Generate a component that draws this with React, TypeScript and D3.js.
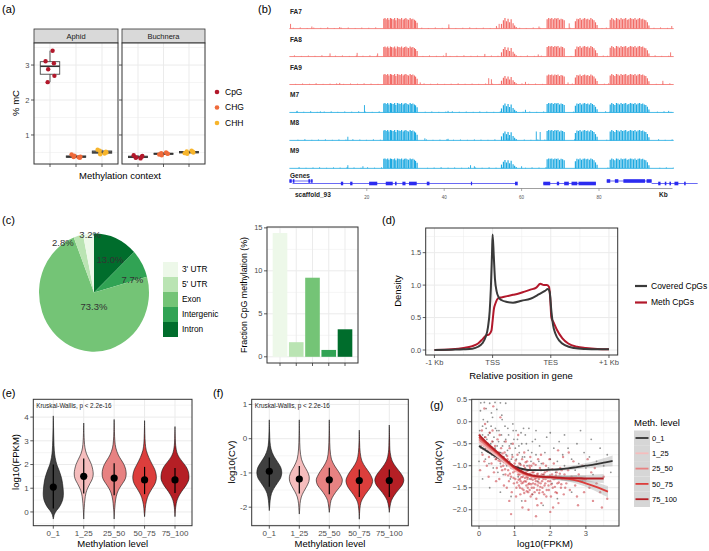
import React from 'react';
import * as d3 from 'd3';

const FONT = "'Liberation Sans', Arial, Helvetica, sans-serif";
const GRID = '#EBEBEB';
const BORDER = '#333333';
const TICK_TXT = '#4D4D4D';

// ---------- (a) % mC per methylation context
const contexts = ['CpG', 'CHG', 'CHH'];
const contextColors = ['#B2182B', '#EF6A3A', '#F7B52C'];
const organisms = ['Aphid', 'Buchnera'];
const aphidMC = [
  [3.41, 3.11, 3.05, 2.88, 2.69, 2.51],
  [0.36, 0.44, 0.35, 0.41, 0.38, 0.37],
  [0.47, 0.58, 0.52, 0.45, 0.5, 0.55],
];
const buchneraMC = [
  [0.33, 0.42, 0.38, 0.36, 0.4, 0.35],
  [0.5, 0.44, 0.47, 0.42, 0.46, 0.48],
  [0.55, 0.48, 0.52, 0.46, 0.5, 0.53],
];
const jitter = [0.1, -0.17, 0.15, -0.07, 0.17, -0.09];

// ---------- (b) genome browser tracks (Kb)
const tracks = ['FA7', 'FA8', 'FA9', 'M7', 'M8', 'M9'];
const trackColors = ['#F26B66', '#F26B66', '#F26B66', '#1CA9E1', '#1CA9E1', '#1CA9E1'];
const blockRegions = [[24.2, 33.2], [54.7, 58.8], [66.5, 71.3], [73.8, 79.8], [82.8, 93.0]];
const spikeKb = [
  24.4, 24.7, 25.0, 25.4, 25.7, 26.1, 26.4, 26.8, 27.2, 27.5, 27.9, 28.3, 28.6, 29.0, 29.4, 29.7, 30.1, 30.4, 30.8, 31.2, 31.5, 31.9, 32.3, 32.6, 33.0,
  54.8, 55.3, 55.7, 56.1, 56.5, 56.9, 57.3, 57.8, 58.2, 58.6,
  66.6, 67.0, 67.4, 67.8, 68.2, 68.6, 69.0, 69.4, 69.8, 70.2, 70.6, 71.0,
  73.9, 74.3, 74.7, 75.1, 75.5, 75.9, 76.3, 76.7, 77.1, 77.5, 77.9, 78.3, 78.7, 79.1, 79.5,
  82.9, 83.3, 83.7, 84.1, 84.5, 84.9, 85.3, 85.7, 86.1, 86.5, 86.9, 87.3, 87.7, 88.1, 88.5, 88.9, 89.3, 89.7, 90.1, 90.5, 90.9, 91.3, 91.7, 92.1, 92.5, 92.9,
];
const spikeH = [
  0.95, 1, 0.9, 1, 0.85, 1, 0.95, 0.9, 1, 0.8, 1, 0.95, 0.9, 1, 0.85, 0.95, 1, 0.9, 0.85, 1, 0.9, 0.95, 0.85, 0.75, 0.55,
  0.45, 0.8, 1, 0.7, 0.95, 0.6, 0.9, 0.5, 0.3, 0.15,
  0.9, 1, 0.95, 1, 0.9, 1, 0.95, 1, 0.85, 0.95, 0.9, 0.8,
  0.7, 0.95, 0.9, 1, 0.85, 0.95, 1, 0.9, 0.95, 0.85, 1, 0.9, 0.8, 0.6, 0.35,
  0.85, 1, 0.9, 0.8, 1, 0.95, 0.85, 1, 0.9, 0.95, 1, 0.85, 0.9, 1, 0.95, 0.9, 1, 0.85, 0.95, 1, 0.9, 0.95, 0.85, 0.8, 0.6, 0.3,
];
const trackBlockScale = [
  [1, 1, 1, 1, 1],
  [0.95, 0.9, 1, 1, 1],
  [1, 0.8, 0.95, 0.95, 1],
  [0.9, 0.85, 0.9, 0.9, 0.9],
  [1, 0.85, 1, 1, 1],
  [0.95, 0.8, 0.95, 0.95, 0.95],
];
const noiseKb = [1.0, 2.8, 4.6, 6.3, 8.1, 9.9, 11.6, 13.4, 15.2, 17.0, 18.7, 20.5, 22.3, 34.2, 35.9, 37.7, 39.5, 41.2, 43.0, 44.8, 46.6, 48.3, 50.1, 51.9, 53.6, 59.5, 61.2, 63.0, 64.8, 72.5, 80.8, 81.9, 94.2, 95.9, 97.7];
const noiseH = [0.08, 0.12, 0.06, 0.1, 0.07, 0.13, 0.06, 0.09, 0.11, 0.06, 0.1, 0.08, 0.12, 0.09, 0.06, 0.11, 0.07, 0.1, 0.06, 0.08, 0.12, 0.07, 0.09, 0.06, 0.1, 0.08, 0.06, 0.11, 0.07, 0.09, 0.06, 0.1, 0.08, 0.12, 0.07];
const trackSpikes = [
  [[0.3, 0.45], [5.8, 0.2], [13, 0.15], [41.2, 0.4], [53.5, 0.25], [54.2, 0.45], [64.5, 0.2], [72.3, 0.5], [98.8, 0.25]],
  [[10.5, 0.3], [17.5, 0.35], [22.8, 0.3], [40.5, 0.35], [50.5, 0.25], [64.3, 0.2], [98.5, 0.4]],
  [[13, 0.15], [33.8, 0.2], [51.5, 0.6], [52.2, 0.5], [61, 0.25], [72, 0.2], [96.5, 0.35]],
  [[2, 0.15], [8, 0.1], [19.4, 0.7], [41, 0.15], [61, 0.25], [98, 0.15]],
  [[15.1, 0.35], [35, 0.2], [41, 0.15], [56.5, 0.2], [63.8, 0.85], [64.8, 0.8]],
  [[15.1, 0.3], [19, 0.2], [46.8, 0.3], [47.8, 0.2], [60, 0.2]],
];
// gene model: [start, end, row]
const geneExons = [
  [0, 0.6, 1], [0.9, 1.3, 1], [4.9, 5.4, 1], [5.6, 6.0, 1],
  [13.3, 13.9, 0], [15.7, 16.3, 0], [20.6, 22.7, 0], [24.9, 26.7, 0], [27.3, 27.7, 0], [29.2, 30.0, 0], [30.9, 32.9, 0], [35.5, 36.2, 0], [46.9, 47.1, 0], [58.3, 59.0, 0],
  [65.6, 67.4, 0], [69.1, 69.7, 0], [71.0, 72.2, 0], [72.9, 74.4, 0], [74.7, 79.2, 0],
  [82.0, 82.9, 1], [84.1, 85.0, 1], [86.3, 91.9, 1], [92.3, 93.6, 1],
  [95.3, 95.9, 0], [97.0, 97.4, 0], [98.2, 98.6, 0], [99.5, 100.5, 0], [102.0, 102.4, 0],
];
const geneIntrons = [[0, 6, 1], [0.8, 58.8, 0], [65.6, 79.2, 0], [82, 93.6, 1], [93.6, 105.5, 0]];
const kbTicks = [20, 40, 60, 80];

// ---------- (c) genomic regions
const regions = ["3' UTR", "5' UTR", 'Exon', 'Intergenic', 'Intron'];
const regionColors = ['#EDF8E9', '#BAE4B3', '#74C476', '#31A354', '#006D2C'];
const pieOrder = ['Intron', 'Intergenic', 'Exon', "5' UTR", "3' UTR"];
const piePct = [13.0, 7.7, 73.3, 2.8, 3.2];
const pieLabelR = [0.62, 0.73, 0.245, 1.02, 0.98];
const pieLabelNudge = [0.08, 0.22, -0.46, -0.3, 0.03];
const fracMeth = [14.4, 1.7, 9.2, 0.8, 3.2];

// ---------- (d) metagene density
const coveredX = [0, 0.3, 0.5, 0.65, 0.75, 0.82, 0.88, 0.92, 0.95, 0.97, 0.99, 1.0, 1.02, 1.04, 1.07, 1.1, 1.15, 1.25, 1.35, 1.5, 1.65, 1.8, 1.9, 1.95, 1.98, 2.01, 2.04, 2.08, 2.15, 2.25, 2.4, 2.6, 2.8, 3.0];
const coveredY = [0.0, 0.005, 0.01, 0.02, 0.05, 0.1, 0.2, 0.35, 0.6, 0.95, 1.5, 1.78, 1.45, 1.1, 0.9, 0.82, 0.77, 0.74, 0.73, 0.76, 0.79, 0.86, 0.91, 0.94, 0.9, 0.6, 0.38, 0.25, 0.14, 0.07, 0.03, 0.015, 0.01, 0.01];
const methX = [0, 0.3, 0.5, 0.65, 0.75, 0.82, 0.88, 0.94, 0.98, 1.0, 1.02, 1.05, 1.1, 1.15, 1.25, 1.35, 1.45, 1.55, 1.65, 1.75, 1.82, 1.88, 1.93, 1.97, 1.99, 2.01, 2.05, 2.1, 2.2, 2.3, 2.45, 2.6, 2.8, 3.0];
const methY = [0.0, 0.01, 0.03, 0.06, 0.1, 0.16, 0.22, 0.24, 0.3, 0.45, 0.62, 0.72, 0.8, 0.81, 0.83, 0.85, 0.87, 0.9, 0.93, 0.96, 1.02, 1.0, 1.0, 0.97, 0.8, 0.5, 0.42, 0.32, 0.18, 0.1, 0.05, 0.03, 0.015, 0.01];
const geneAxisLabels = ['-1 Kb', 'TSS', 'TES', '+1 Kb'];

// ---------- (e)/(f) violins by methylation level
const levels = ['0_1', '1_25', '25_50', '50_75', '75_100'];
const levelColors = ['#404040', '#F5BDBD', '#E78282', '#DC3E3C', '#B51F25'];
const fpkmDensity = [
  [[4.05, 0], [3.5, 0.02], [3.0, 0.04], [2.6, 0.07], [2.3, 0.13], [2.0, 0.25], [1.8, 0.38], [1.6, 0.5], [1.4, 0.6], [1.2, 0.66], [1.0, 0.7], [0.8, 0.72], [0.6, 0.7], [0.4, 0.6], [0.2, 0.42], [0.05, 0.22], [-0.1, 0.08], [-0.3, 0]],
  [[3.75, 0], [3.3, 0.02], [3.0, 0.04], [2.7, 0.09], [2.45, 0.2], [2.2, 0.4], [2.0, 0.55], [1.8, 0.64], [1.6, 0.68], [1.4, 0.62], [1.2, 0.45], [1.0, 0.28], [0.8, 0.16], [0.5, 0.08], [0.2, 0.04], [0, 0.02], [-0.3, 0]],
  [[3.9, 0], [3.4, 0.02], [3.0, 0.05], [2.7, 0.12], [2.4, 0.3], [2.2, 0.5], [2.0, 0.7], [1.8, 0.82], [1.6, 0.86], [1.4, 0.8], [1.2, 0.6], [1.0, 0.38], [0.8, 0.22], [0.5, 0.1], [0.2, 0.05], [0, 0.02], [-0.3, 0]],
  [[3.85, 0], [3.3, 0.02], [2.9, 0.05], [2.6, 0.12], [2.3, 0.3], [2.0, 0.55], [1.8, 0.72], [1.6, 0.82], [1.4, 0.84], [1.2, 0.75], [1.0, 0.55], [0.8, 0.35], [0.6, 0.2], [0.3, 0.08], [0, 0.03], [-0.2, 0]],
  [[3.6, 0], [3.1, 0.02], [2.8, 0.05], [2.5, 0.14], [2.3, 0.3], [2.1, 0.55], [1.9, 0.8], [1.7, 0.95], [1.5, 1.0], [1.35, 0.98], [1.15, 0.82], [0.95, 0.58], [0.75, 0.35], [0.5, 0.15], [0.2, 0.05], [0, 0.02], [-0.2, 0]],
];
const fpkmMid = [1.05, 1.5, 1.43, 1.35, 1.35];
const fpkmLow = [0.15, 0.78, 0.7, 0.75, 0.8];
const fpkmHigh = [2.0, 2.25, 2.05, 1.9, 1.85];
const cvDensity = [
  [[0.55, 0], [0.2, 0.02], [-0.1, 0.05], [-0.3, 0.12], [-0.5, 0.3], [-0.7, 0.6], [-0.85, 0.8], [-1.0, 0.86], [-1.15, 0.78], [-1.3, 0.55], [-1.45, 0.32], [-1.6, 0.15], [-1.8, 0.06], [-2.0, 0.02], [-2.1, 0]],
  [[0.55, 0], [0.1, 0.02], [-0.3, 0.05], [-0.6, 0.15], [-0.8, 0.35], [-0.95, 0.55], [-1.1, 0.68], [-1.25, 0.66], [-1.4, 0.5], [-1.55, 0.3], [-1.7, 0.14], [-1.9, 0.05], [-2.1, 0.02], [-2.2, 0]],
  [[0.55, 0], [0.1, 0.02], [-0.3, 0.05], [-0.6, 0.15], [-0.8, 0.38], [-0.95, 0.62], [-1.1, 0.82], [-1.2, 0.9], [-1.35, 0.82], [-1.5, 0.55], [-1.65, 0.3], [-1.8, 0.12], [-2.0, 0.04], [-2.15, 0]],
  [[0.25, 0], [-0.1, 0.02], [-0.4, 0.06], [-0.65, 0.18], [-0.85, 0.45], [-1.0, 0.7], [-1.15, 0.88], [-1.25, 0.92], [-1.4, 0.8], [-1.55, 0.55], [-1.7, 0.3], [-1.85, 0.12], [-2.05, 0.04], [-2.35, 0]],
  [[0.4, 0], [0.0, 0.02], [-0.4, 0.06], [-0.65, 0.2], [-0.85, 0.5], [-1.0, 0.78], [-1.12, 0.95], [-1.22, 1.0], [-1.35, 0.9], [-1.5, 0.62], [-1.65, 0.35], [-1.8, 0.15], [-2.0, 0.04], [-2.15, 0]],
];
const cvMid = [-0.95, -1.18, -1.2, -1.22, -1.22];
const cvLow = [-1.4, -1.6, -1.62, -1.7, -1.7];
const cvHigh = [-0.55, -0.8, -0.85, -0.9, -0.9];

// ---------- (g) CV vs expression
const grayPts = [
  [0.05, 0.43], [0.15, 0.44], [0.3, 0.42], [0.45, 0.44], [0.6, 0.43], [0.75, 0.42], [0.2, 0.3], [0.5, 0.28],
  [0.02, -0.2], [0.05, -0.45], [0.08, -0.7], [0.1, -0.3], [0.12, 0.05], [0.14, -0.55], [0.18, -0.85], [0.2, -0.15], [0.22, -0.4], [0.25, -0.65], [0.28, -0.95], [0.3, -0.25],
  [0.33, -0.5], [0.36, -0.75], [0.38, 0.1], [0.4, -1.05], [0.42, -0.35], [0.45, -0.6], [0.48, -0.85], [0.5, -0.2], [0.53, -1.15], [0.55, -0.45], [0.58, -0.7], [0.6, -0.95],
  [0.63, -0.3], [0.66, -0.55], [0.68, -1.2], [0.7, -0.8], [0.73, -0.1], [0.75, -0.4], [0.78, -1.0], [0.8, -0.65], [0.83, -0.3], [0.86, -0.9], [0.88, -1.3], [0.9, -0.5],
  [0.93, -0.75], [0.96, -0.2], [1.0, -1.05], [1.02, -0.6], [1.05, -0.85], [1.08, -0.4], [1.1, -1.25], [1.13, -0.7], [1.16, -0.95], [1.2, -0.5], [1.24, -1.15], [1.28, -0.8],
  [1.3, -0.3], [1.35, -1.0], [1.38, -0.65], [1.42, -1.3], [1.46, -0.9], [1.5, -0.45], [1.55, -1.1], [1.6, -0.75], [1.65, -1.35], [1.7, -0.55], [1.75, -0.95], [1.8, -1.2],
  [1.85, -0.7], [1.9, -0.35], [1.95, -1.05], [2.0, -0.85], [2.05, -1.4], [2.1, -0.6], [2.15, -1.15], [2.2, -0.9], [2.25, -0.45], [2.3, -1.25], [2.35, -0.75], [2.4, -1.0],
  [2.5, -0.6], [2.55, -1.3], [2.6, -0.85], [2.7, -1.1], [2.75, -0.5], [2.8, -0.95], [2.9, -1.35], [2.95, -0.7], [3.0, -1.05], [3.1, -0.8], [3.15, -0.4], [3.2, -1.2],
  [3.3, -0.9], [3.4, -0.6], [3.5, -1.0], [3.6, -0.75], [3.7, -1.15], [0.1, -1.3], [0.3, -1.5], [0.6, -1.6], [0.9, -1.7], [1.2, -1.8], [1.5, -1.65], [1.8, -1.9],
  [2.2, -1.75], [2.6, -1.6], [0.0, -0.9], [0.04, 0.25], [0.35, 0.2], [0.65, 0.05], [0.95, -0.05], [1.25, -0.15], [1.6, -0.2], [2.0, -0.25], [2.4, -0.3], [2.85, -0.2],
  [0.06, -0.6], [0.1, -0.1], [0.16, -0.35], [0.19, -0.6], [0.24, 0.0], [0.26, -0.3], [0.31, -0.7], [0.34, -0.1], [0.39, -0.45], [0.43, -0.8], [0.46, -0.15], [0.51, -0.55],
  [0.56, -0.2], [0.61, -0.7], [0.64, 0.15], [0.71, -0.45], [0.76, -0.75], [0.81, -0.15], [0.85, -0.55], [0.91, -0.85], [0.98, -0.4], [1.04, -0.2], [1.12, -0.55], [1.18, -0.25],
  [1.22, -0.8], [1.33, -0.5], [1.4, -0.15], [1.48, -0.7], [1.58, -0.4], [1.68, -0.9],
];
const redPts = [
  [0.02, -0.3], [0.05, -0.55], [0.08, -0.2], [0.1, -0.75], [0.12, -0.45], [0.15, -0.9], [0.18, -0.35], [0.2, -0.6], [0.22, -1.0], [0.25, -0.5], [0.28, -0.8], [0.3, -0.25], [0.03, -1.1], [0.17, -0.05], [0.27, -1.25],
  [0.32, -0.65], [0.35, -0.95], [0.37, -0.45], [0.4, -0.75], [0.42, -1.15], [0.45, -0.55], [0.47, -0.85], [0.5, -1.05], [0.52, -0.4], [0.55, -0.7], [0.57, -1.3], [0.6, -0.9], [0.62, -0.6], [0.65, -1.1], [0.67, -0.8], [0.7, -1.45], [0.38, -0.2], [0.58, -0.3], [0.68, -1.0], [0.48, -1.35],
  [0.72, -0.7], [0.74, -1.2], [0.76, -0.95], [0.78, -1.5], [0.8, -0.85], [0.82, -1.1], [0.84, -1.35], [0.86, -0.6], [0.88, -1.0], [0.9, -1.25], [0.92, -1.6], [0.94, -0.8], [0.96, -1.15], [0.98, -1.4], [1.0, -0.95], [1.02, -1.3], [1.04, -1.7], [1.06, -1.05], [1.08, -0.75], [1.1, -1.2], [0.75, -0.45], [0.85, -1.8], [0.95, -0.5], [1.05, -1.5],
  [1.12, -1.45], [1.13, -0.95], [1.15, -1.3], [1.16, -1.65], [1.18, -1.1], [1.2, -1.4], [1.21, -0.85], [1.23, -1.25], [1.25, -1.55], [1.26, -1.0], [1.28, -1.35], [1.3, -1.8], [1.31, -1.15], [1.33, -1.45], [1.35, -0.9], [1.36, -1.3], [1.38, -1.6], [1.4, -1.2], [1.41, -1.4], [1.43, -1.05], [1.45, -1.7], [1.46, -1.3], [1.48, -1.5], [1.5, -1.15],
  [1.14, -1.2], [1.22, -1.95], [1.27, -0.7], [1.34, -1.25], [1.39, -2.0], [1.44, -0.8], [1.17, -1.35], [1.29, -1.05], [1.37, -1.5], [1.47, -1.0],
  [1.52, -1.4], [1.53, -0.95], [1.55, -1.25], [1.56, -1.6], [1.58, -1.1], [1.6, -1.35], [1.61, -1.75], [1.63, -1.2], [1.65, -1.45], [1.66, -0.85], [1.68, -1.3], [1.7, -1.55], [1.71, -1.05], [1.73, -1.4], [1.75, -1.85], [1.76, -1.2], [1.78, -1.5], [1.8, -0.95], [1.81, -1.3], [1.83, -1.65], [1.85, -1.15], [1.86, -1.4], [1.88, -1.0], [1.9, -1.55], [1.57, -1.3], [1.64, -1.9], [1.74, -0.75], [1.84, -1.25],
  [1.92, -1.25], [1.95, -1.45], [1.97, -1.1], [2.0, -1.35], [2.02, -1.7], [2.05, -1.2], [2.07, -1.5], [2.1, -0.95], [2.12, -1.3], [2.15, -1.6], [2.18, -1.15], [2.2, -1.4], [2.23, -1.85], [2.25, -1.25], [2.28, -1.05], [2.3, -1.5], [2.33, -1.3], [2.36, -0.8], [2.38, -1.65], [2.4, -1.2], [1.98, -0.85], [2.08, -1.95], [2.22, -0.65], [2.32, -1.1],
  [2.45, -1.4], [2.5, -1.1], [2.55, -1.55], [2.6, -1.25], [2.65, -0.9], [2.7, -1.45], [2.75, -1.7], [2.8, -1.2], [2.85, -1.35], [2.9, -1.0], [2.95, -1.6], [3.0, -1.3], [3.1, -1.5], [3.15, -1.15], [3.2, -1.8], [3.3, -1.4], [3.4, -1.6], [3.5, -1.25], [3.6, -1.75], [2.52, -0.7], [2.78, -1.9], [3.05, -0.85], [3.25, -1.05], [3.45, -1.95],
  [0.4, 0.35], [0.9, -2.1], [1.6, -2.15], [2.0, -2.05], [0.15, 0.3], [1.1, -0.3], [0.6, 0.1],
  [0.82, -1.22], [0.87, -1.18], [0.91, -1.05], [0.97, -1.28], [1.01, -1.12], [1.03, -0.88], [1.07, -1.38], [1.09, -1.02], [1.11, -1.32], [1.13, -1.12], [1.15, -1.5], [1.17, -0.98],
  [1.19, -1.26], [1.21, -1.52], [1.23, -1.08], [1.24, -1.38], [1.26, -1.2], [1.27, -1.62], [1.29, -1.28], [1.31, -0.92], [1.32, -1.36], [1.34, -1.58], [1.36, -1.12], [1.37, -1.26],
  [1.39, -1.42], [1.41, -1.0], [1.42, -1.55], [1.44, -1.18], [1.46, -1.42], [1.48, -1.25], [1.49, -1.65], [1.51, -1.32], [1.53, -1.15], [1.54, -1.5], [1.56, -1.22], [1.58, -1.42],
  [1.59, -0.98], [1.61, -1.28], [1.63, -1.55], [1.65, -1.18], [1.67, -1.38], [1.69, -1.62], [1.71, -1.25], [1.72, -1.48], [1.74, -1.1], [1.77, -1.35], [1.79, -1.6], [1.82, -1.2],
  [1.84, -1.45], [1.87, -1.3], [1.89, -1.7], [1.91, -1.12], [1.94, -1.35], [1.96, -1.55], [1.99, -1.22], [2.03, -1.42], [2.06, -1.08], [2.09, -1.3], [2.13, -1.48], [2.16, -1.22],
  [2.19, -1.62], [2.24, -1.38], [2.27, -1.18], [2.31, -1.42], [2.35, -1.28], [2.42, -1.5], [0.55, -0.88], [0.62, -1.02], [0.66, -0.72], [0.7, -0.92], [0.73, -1.08], [0.79, -0.78],
  [0.45, -0.68], [0.5, -0.82], [0.35, -0.58], [0.25, -0.68], [0.12, -0.62], [0.08, -0.4],
];
const smoothX = [0, 0.25, 0.5, 0.75, 1.0, 1.25, 1.5, 1.75, 2.0, 2.25, 2.5, 2.75, 3.0, 3.25, 3.5, 3.62, 3.75];
const smoothY = [
  [-0.55, -0.68, -0.8, -0.92, -1.02, -1.08, -1.1, -1.1, -1.09, -1.08, -1.06, -1.03, -1.0, -0.97, -0.93, -0.91, -0.89],
  [-0.45, -0.62, -0.78, -0.94, -1.1, -1.2, -1.25, -1.26, -1.27, -1.27, -1.28, -1.28],
  [-0.4, -0.57, -0.73, -0.9, -1.06, -1.18, -1.24, -1.26, -1.27, -1.28, -1.29, -1.3, -1.31],
  [-0.35, -0.53, -0.7, -0.88, -1.05, -1.17, -1.23, -1.25, -1.26, -1.28, -1.3, -1.34, -1.4, -1.47, -1.55, -1.59],
  [-0.3, -0.5, -0.68, -0.86, -1.03, -1.15, -1.22, -1.25, -1.26, -1.27, -1.28, -1.28, -1.29, -1.29, -1.29],
];
const smoothSE = [
  [0.04, 0.03, 0.02, 0.02, 0.02, 0.02, 0.02, 0.02, 0.03, 0.03, 0.04, 0.05, 0.06, 0.08, 0.1, 0.11, 0.12],
  [0.04, 0.03, 0.02, 0.02, 0.02, 0.02, 0.02, 0.03, 0.04, 0.05, 0.06, 0.07],
  [0.04, 0.03, 0.02, 0.02, 0.02, 0.02, 0.02, 0.03, 0.04, 0.05, 0.06, 0.07, 0.08],
  [0.04, 0.03, 0.02, 0.02, 0.02, 0.02, 0.02, 0.03, 0.04, 0.05, 0.06, 0.07, 0.08, 0.1, 0.12, 0.13],
  [0.04, 0.03, 0.02, 0.02, 0.02, 0.02, 0.02, 0.03, 0.04, 0.05, 0.06, 0.07, 0.08, 0.09, 0.1],
];

function Frame({ x0, x1, y0, y1, y, yTicks, yMinor = [], yFmt = (v: number) => String(v), xTicks = [], xMinor = [], xLabels, showY = true, fs = 7.5, children }: any) {
  return (
    <g>
      <rect x={x0} y={y0} width={x1 - x0} height={y1 - y0} fill="#fff" />
      {yMinor.map((v: number, i: number) => <line key={`ym${i}`} x1={x0} x2={x1} y1={y(v)} y2={y(v)} stroke={GRID} strokeWidth={0.5} />)}
      {xMinor.map((p: number, i: number) => <line key={`xm${i}`} x1={p} x2={p} y1={y0} y2={y1} stroke={GRID} strokeWidth={0.5} />)}
      {yTicks.map((v: number, i: number) => <line key={`yg${i}`} x1={x0} x2={x1} y1={y(v)} y2={y(v)} stroke={GRID} strokeWidth={1} />)}
      {xTicks.map((p: number, i: number) => <line key={`xg${i}`} x1={p} x2={p} y1={y0} y2={y1} stroke={GRID} strokeWidth={1} />)}
      {children}
      <rect x={x0} y={y0} width={x1 - x0} height={y1 - y0} fill="none" stroke={BORDER} strokeWidth={1} />
      {yTicks.map((v: number, i: number) => (
        <g key={`yt${i}`}>
          <line x1={x0 - 3} x2={x0} y1={y(v)} y2={y(v)} stroke={BORDER} strokeWidth={0.8} />
          {showY && <text x={x0 - 4.5} y={y(v)} dy="0.35em" textAnchor="end" fontSize={fs} fill={TICK_TXT}>{yFmt(v)}</text>}
        </g>
      ))}
      {xTicks.map((p: number, i: number) => (
        <g key={`xt${i}`}>
          <line x1={p} x2={p} y1={y1} y2={y1 + 3} stroke={BORDER} strokeWidth={0.8} />
          {xLabels && <text x={p} y={y1 + 4} dy="0.75em" textAnchor="middle" fontSize={fs} fill={TICK_TXT}>{xLabels[i]}</text>}
        </g>
      ))}
    </g>
  );
}

function PanelA() {
  const y = d3.scaleLinear().domain([0.17, 3.63]).range([164, 43]);
  const facets = [
    { name: organisms[0], x0: 34, x1: 118, vals: aphidMC },
    { name: organisms[1], x0: 122, x1: 205, vals: buchneraMC },
  ];
  return (
    <g>
      <text x={2} y={13} fontSize={11}>(a)</text>
      {facets.map((f, fi) => {
        const x = d3.scalePoint().domain(contexts).range([f.x0 + 16, f.x1 - 16]);
        const step = x.step();
        return (
          <g key={f.name}>
            <rect x={f.x0} y={29} width={f.x1 - f.x0} height={14} fill="#D9D9D9" stroke={BORDER} strokeWidth={0.8} />
            <text x={(f.x0 + f.x1) / 2} y={36} dy="0.35em" textAnchor="middle" fontSize={7.5} fill="#1A1A1A">{f.name}</text>
            <Frame x0={f.x0} x1={f.x1} y0={43} y1={164} y={y} yTicks={[1, 2, 3]} yMinor={[0.5, 1.5, 2.5, 3.5]}
              xTicks={contexts.map((c) => x(c))} showY={fi === 0}>
              {contexts.map((c, ci) => {
                const s = [...f.vals[ci]].sort(d3.ascending);
                const q1 = d3.quantile(s, 0.25)!, med = d3.quantile(s, 0.5)!, q3 = d3.quantile(s, 0.75)!;
                const cx = x(c)!;
                const bw = step * 0.75;
                return (
                  <g key={c}>
                    <line x1={cx} x2={cx} y1={y(s[s.length - 1])} y2={y(q3)} stroke={BORDER} strokeWidth={0.8} />
                    <line x1={cx} x2={cx} y1={y(s[0])} y2={y(q1)} stroke={BORDER} strokeWidth={0.8} />
                    <rect x={cx - bw / 2} y={y(q3)} width={bw} height={Math.max(0.5, y(q1) - y(q3))} fill="#fff" stroke={BORDER} strokeWidth={0.8} />
                    <line x1={cx - bw / 2} x2={cx + bw / 2} y1={y(med)} y2={y(med)} stroke={BORDER} strokeWidth={1.6} />
                    {f.vals[ci].map((v, k) => (
                      <circle key={k} cx={cx + jitter[k] * step} cy={y(v)} r={2.2} fill={contextColors[ci]} />
                    ))}
                  </g>
                );
              })}
            </Frame>
          </g>
        );
      })}
      <text transform="translate(19,103) rotate(-90)" textAnchor="middle" fontSize={9.5}>% mC</text>
      <text x={120} y={179} textAnchor="middle" fontSize={9.5}>Methylation context</text>
      {contexts.map((c, i) => (
        <g key={c}>
          <circle cx={217} cy={92 + i * 15.5} r={2.3} fill={contextColors[i]} />
          <text x={225} y={92 + i * 15.5} dy="0.35em" fontSize={8.5}>{c}</text>
        </g>
      ))}
    </g>
  );
}

function PanelB() {
  const x = d3.scaleLinear().domain([0, 100]).range([289.4, 676.4]);
  const blockOf = (k: number) => blockRegions.findIndex((b) => k >= b[0] && k <= b[1]);
  const geneY = [183.5, 181];
  const geneCol = '#2B2BF0';
  return (
    <g>
      <text x={258} y={13} fontSize={11}>(b)</text>
      {tracks.map((t, ti) => {
        const base = 28.6 + ti * 27.95;
        const h = d3.scaleLinear().domain([0, 1]).range([base, base - 10.5]);
        const col = trackColors[ti];
        return (
          <g key={t}>
            <text x={290} y={base - 15} fontSize={6.5} fontWeight="bold" fill="#222">{t}</text>
            <line x1={x(0)} x2={x(99.3)} y1={base} y2={base} stroke={col} strokeWidth={0.8} />
            {noiseKb.map((k, i) => (
              <line key={`n${i}`} x1={x(k + ti * 0.3)} x2={x(k + ti * 0.3)} y1={base} y2={h(noiseH[(i + ti) % noiseH.length])} stroke={col} strokeWidth={0.8} />
            ))}
            {trackSpikes[ti].map((s, i) => (
              <line key={`s${i}`} x1={x(s[0])} x2={x(s[0])} y1={base} y2={h(s[1])} stroke={col} strokeWidth={0.9} />
            ))}
            {spikeKb.map((k, i) => (
              <line key={`b${i}`} x1={x(k)} x2={x(k)} y1={base} y2={h(spikeH[i] * trackBlockScale[ti][blockOf(k)])} stroke={col} strokeWidth={1.15} />
            ))}
          </g>
        );
      })}
      <text x={290} y={177.5} fontSize={6.5} fontWeight="bold" fill="#222">Genes</text>
      {geneIntrons.map((g, i) => (
        <line key={`i${i}`} x1={x(g[0])} x2={x(g[1])} y1={geneY[g[2]]} y2={geneY[g[2]]} stroke={geneCol} strokeWidth={0.7} />
      ))}
      {geneExons.map((g, i) => (
        <rect key={`e${i}`} x={x(g[0])} y={geneY[g[2]] - 1.8} width={Math.max(1.2, x(g[1]) - x(g[0]))} height={3.6} fill={geneCol} />
      ))}
      <line x1={x(0)} x2={x(99)} y1={188.5} y2={188.5} stroke="#777" strokeWidth={0.7} />
      {kbTicks.map((k) => (
        <g key={k}>
          <line x1={x(k)} x2={x(k)} y1={188.5} y2={191} stroke="#777" strokeWidth={0.6} />
          <text x={x(k)} y={198.5} textAnchor="middle" fontSize={4.5} fill="#555">{k}</text>
        </g>
      ))}
      <text x={295} y={196.5} fontSize={6.5} fontWeight="bold" fill="#222">scaffold_93</text>
      <text x={659} y={196.5} fontSize={6.5} fontWeight="bold" fill="#222">Kb</text>
    </g>
  );
}

function PanelC() {
  const cx = 94, cy = 292.5, R = 55, sy = 1.075;
  const arcs = d3.pie<number>().sort(null)(piePct);
  const arc = d3.arc<d3.PieArcDatum<number>>().innerRadius(0).outerRadius(R);
  const colOf = (name: string) => regionColors[regions.indexOf(name)];
  const y = d3.scaleLinear().domain([-0.72, 15.1]).range([363, 227]);
  const x = d3.scaleBand().domain(regions).range([267, 358]).paddingInner(0.1).paddingOuter(0.35);
  return (
    <g>
      <text x={2} y={224} fontSize={11}>(c)</text>
      <g transform={`translate(${cx},${cy}) scale(1,${sy})`}>
        {arcs.map((a, i) => (
          <path key={i} d={arc(a)!} fill={colOf(pieOrder[i])} />
        ))}
      </g>
      {arcs.map((a, i) => {
        const ang = (a.startAngle + a.endAngle) / 2 + pieLabelNudge[i];
        const r = R * pieLabelR[i];
        return (
          <text key={`l${i}`} x={cx + Math.sin(ang) * r} y={cy - Math.cos(ang) * r * sy} dy="0.35em" textAnchor="middle" fontSize={9.5} fill="#333">
            {`${piePct[i].toFixed(1)}%`}
          </text>
        );
      })}
      {regions.map((r, i) => (
        <g key={r}>
          <rect x={163} y={262 + i * 15} width={15} height={15} fill={regionColors[i]} />
          <text x={182} y={269.5 + i * 15} dy="0.35em" fontSize={8.3}>{r}</text>
        </g>
      ))}
      <Frame x0={267} x1={358} y0={227} y1={363} y={y} yTicks={[0, 5, 10, 15]} yMinor={[2.5, 7.5, 12.5]}
        xTicks={regions.map((r) => x(r)! + x.bandwidth() / 2)}>
        {regions.map((r, i) => (
          <rect key={r} x={x(r)} y={y(fracMeth[i])} width={x.bandwidth()} height={y(0) - y(fracMeth[i])} fill={regionColors[i]} />
        ))}
      </Frame>
      <text transform="translate(247,295) rotate(-90)" textAnchor="middle" fontSize={8.8}>Fraction CpG methylation (%)</text>
    </g>
  );
}

function PanelD() {
  const x = d3.scaleLinear().domain([-0.15, 3.15]).range([425.7, 617.7]);
  const y = d3.scaleLinear().domain([-0.077, 1.88]).range([355, 228]);
  const covered = d3.line<number>().curve(d3.curveMonotoneX).x((_, i) => x(coveredX[i])).y((v) => y(v))(coveredY)!;
  const meth = d3.line<number>().curve(d3.curveMonotoneX).x((_, i) => x(methX[i])).y((v) => y(v))(methY)!;
  const series = [{ name: 'Covered CpGs', col: '#3A3A3A' }, { name: 'Meth CpGs', col: '#B2182B' }];
  return (
    <g>
      <text x={382} y={224} fontSize={11}>(d)</text>
      <Frame x0={425.7} x1={617.7} y0={228} y1={355} y={y} yTicks={[0, 0.5, 1, 1.5]} yMinor={[0.25, 0.75, 1.25, 1.75]}
        yFmt={d3.format('.1f')} xTicks={[0, 1, 2, 3].map(x)} xMinor={[0.5, 1.5, 2.5].map(x)} xLabels={geneAxisLabels}>
        <path d={meth} fill="none" stroke="#B2182B" strokeWidth={2} />
        <path d={covered} fill="none" stroke="#3A3A3A" strokeWidth={2} />
      </Frame>
      <text transform="translate(401,291) rotate(-90)" textAnchor="middle" fontSize={9.5}>Density</text>
      <text x={521} y={379} textAnchor="middle" fontSize={9.5}>Relative position in gene</text>
      {series.map((s, i) => (
        <g key={s.name}>
          <line x1={635} x2={647} y1={286 + i * 16.5} y2={286 + i * 16.5} stroke={s.col} strokeWidth={2.2} />
          <text x={651} y={286 + i * 16.5} dy="0.35em" fontSize={8.5}>{s.name}</text>
        </g>
      ))}
    </g>
  );
}

function ViolinPanel({ tag, tagX, x0, x1, y, yTicks, yMinor, range, dens, hw, mid, low, high, yLabel, yLabelX }: any) {
  const x = d3.scalePoint().domain(levels).range(range);
  return (
    <g>
      <text x={tagX} y={397} fontSize={11}>{tag}</text>
      <Frame x0={x0} x1={x1} y0={399.3} y1={525.7} y={y} yTicks={yTicks} yMinor={yMinor} fs={8}
        xTicks={levels.map((l) => x(l))} xLabels={levels}>
        {levels.map((l, i) => {
          const cx = x(l)!;
          const area = d3.area<number[]>().curve(d3.curveCatmullRom)
            .x0((d) => cx - d[1] * hw).x1((d) => cx + d[1] * hw).y((d) => y(d[0]));
          return (
            <g key={l}>
              <path d={area(dens[i])!} fill={levelColors[i]} stroke="#111" strokeWidth={0.6} />
              <line x1={cx} x2={cx} y1={y(high[i])} y2={y(low[i])} stroke="#000" strokeWidth={1.2} />
              <circle cx={cx} cy={y(mid[i])} r={3.6} fill="#000" />
            </g>
          );
        })}
        <text x={x0 + 3} y={405.5} dy="0.35em" fontSize={6.3} fill="#222">Kruskal-Wallis, p &lt; 2.2e-16</text>
      </Frame>
      <text transform={`translate(${yLabelX},462) rotate(-90)`} textAnchor="middle" fontSize={9.5}>{yLabel}</text>
      <text x={(x0 + x1) / 2} y={547} textAnchor="middle" fontSize={9.5}>Methylation level</text>
    </g>
  );
}

function PanelG() {
  const x = d3.scaleLinear().domain([-0.205, 3.93]).range([471.7, 619]);
  const y = d3.scaleLinear().domain([-2.37, 0.51]).range([526, 399.3]);
  const smoothCols = levelColors.map((c, i) => (i === 0 ? '#333333' : c));
  return (
    <g>
      <text x={430} y={409} fontSize={11}>(g)</text>
      <Frame x0={471.7} x1={619} y0={399.3} y1={526} y={y} yTicks={[-2, -1.5, -1, -0.5, 0, 0.5]}
        yMinor={[-2.25, -1.75, -1.25, -0.75, -0.25, 0.25]} yFmt={d3.format('.1f')} fs={7.5}
        xTicks={[0, 1, 2, 3].map(x)} xMinor={[0.5, 1.5, 2.5, 3.5].map(x)} xLabels={['0', '1', '2', '3']}>
        {grayPts.map((p, i) => <circle key={`g${i}`} cx={x(p[0])} cy={y(p[1])} r={0.9} fill="#3A3A3A" opacity={0.55} />)}
        {redPts.map((p, i) => <circle key={`r${i}`} cx={x(p[0])} cy={y(p[1])} r={1.2} fill="#C4262D" opacity={0.5} />)}
        {smoothY.map((ys, li) => {
          const band = d3.area<number>().curve(d3.curveMonotoneX)
            .x((_, i) => x(smoothX[i])).y0((v, i) => y(v - smoothSE[li][i])).y1((v, i) => y(v + smoothSE[li][i]));
          return <path key={`se${li}`} d={band(ys)!} fill="#999" opacity={0.35} />;
        })}
        {smoothY.map((ys, li) => {
          const ln = d3.line<number>().curve(d3.curveMonotoneX).x((_, i) => x(smoothX[i])).y((v) => y(v));
          return <path key={`sm${li}`} d={ln(ys)!} fill="none" stroke={smoothCols[li]} strokeWidth={1.8} />;
        })}
      </Frame>
      <text transform="translate(442,462) rotate(-90)" textAnchor="middle" fontSize={9.5}>log10(CV)</text>
      <text x={545} y={547} textAnchor="middle" fontSize={9.5}>log10(FPKM)</text>
      <text x={634} y={426} fontSize={9.5}>Meth. level</text>
      {levels.map((l, i) => (
        <g key={l}>
          <rect x={634} y={430.5 + i * 15.3} width={16} height={15.3} fill="#D6D6D6" />
          <line x1={635.5} x2={648.5} y1={438 + i * 15.3} y2={438 + i * 15.3} stroke={smoothCols[i]} strokeWidth={1.8} />
          <text x={652} y={438 + i * 15.3} dy="0.35em" fontSize={7.5}>{l}</text>
        </g>
      ))}
    </g>
  );
}

export default function App() {
  const yE = d3.scaleLinear().domain([-0.58, 4.75]).range([525.7, 399.3]);
  const yF = d3.scaleLinear().domain([-2.54, 1.15]).range([525.7, 399.3]);
  return (
    <svg width={709} height={551} viewBox="0 0 709 551" fontFamily={FONT}
      style={{ position: 'absolute', left: 0, top: 0, background: '#fff' }}>
      <rect width={709} height={551} fill="#fff" />
      <PanelA />
      <PanelB />
      <PanelC />
      <PanelD />
      <ViolinPanel tag="(e)" tagX={2} x0={33.3} x1={192} y={yE} yTicks={[0, 1, 2, 3, 4]} yMinor={[-0.5, 0.5, 1.5, 2.5, 3.5, 4.5]}
        range={[53.3, 175]} dens={fpkmDensity} hw={14} mid={fpkmMid} low={fpkmLow} high={fpkmHigh} yLabel="log10(FPKM)" yLabelX={19} />
      <ViolinPanel tag="(f)" tagX={213} x0={251.7} x1={408.3} y={yF} yTicks={[-2, -1, 0, 1]} yMinor={[-2.5, -1.5, -0.5, 0.5]}
        range={[269.3, 389.3]} dens={cvDensity} hw={14.5} mid={cvMid} low={cvLow} high={cvHigh} yLabel="log10(CV)" yLabelX={235} />
      <PanelG />
    </svg>
  );
}
